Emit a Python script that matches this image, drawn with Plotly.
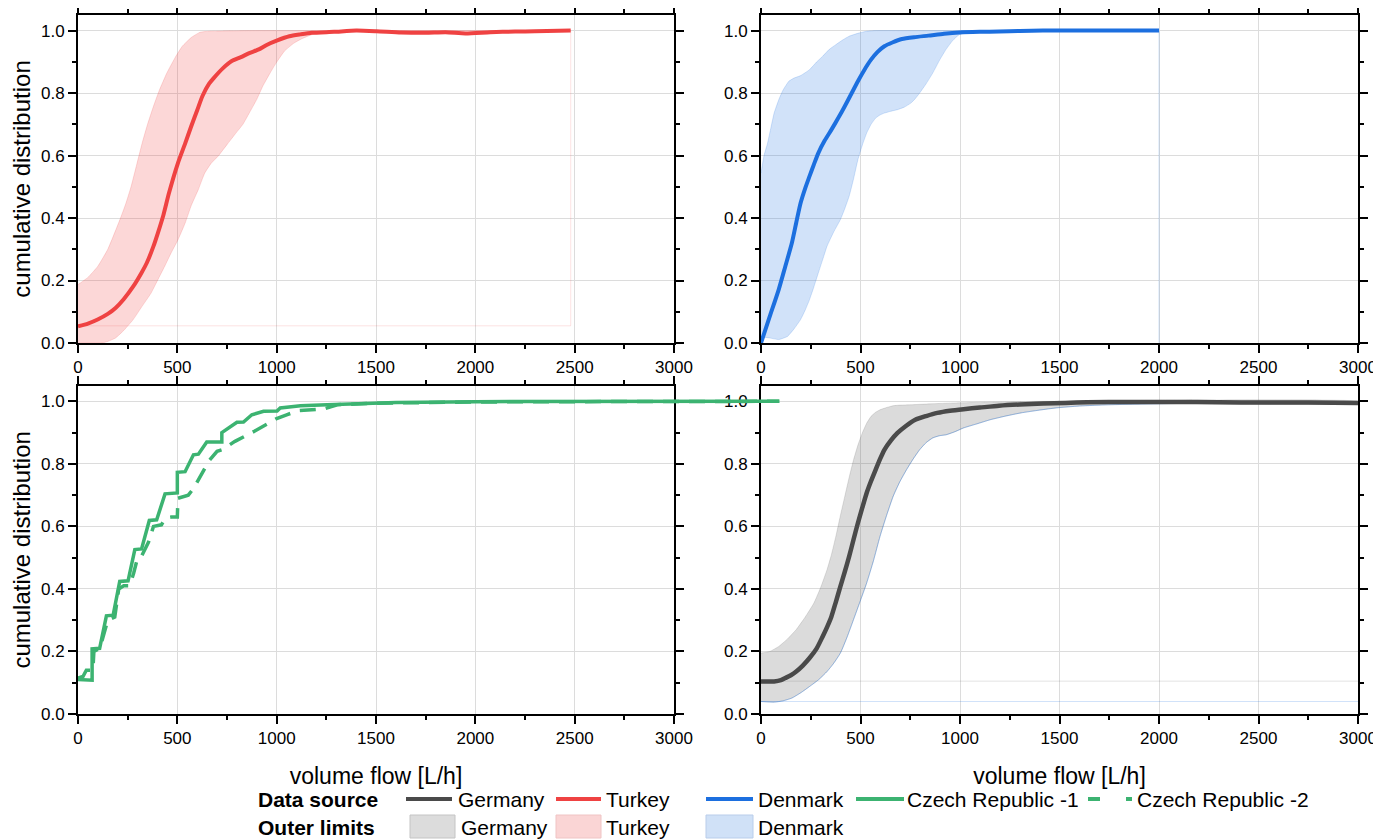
import plotly.graph_objects as go

# ---------------- data ----------------
# Turkey (top-left)
turkey_x = [0, 50, 99, 150, 189, 230, 278, 320, 346, 380, 402, 430, 458, 503, 540, 570, 600, 626, 660, 683,
            730, 772, 820, 862, 910, 952, 1000, 1064, 1120, 1177, 1289, 1401, 1502, 1626, 1750, 1850, 1951,
            2075, 2200, 2300, 2480]
turkey_y = [0.053, 0.062, 0.075, 0.093, 0.112, 0.140, 0.181, 0.225, 0.256, 0.31, 0.352, 0.41, 0.48, 0.576,
            0.64, 0.694, 0.745, 0.79, 0.83, 0.848, 0.88, 0.902, 0.915, 0.928, 0.94, 0.955, 0.968, 0.982,
            0.988, 0.993, 0.996, 1.0, 0.998, 0.994, 0.993, 0.995, 0.991, 0.995, 0.997, 0.998, 1.0]
turkey_up_x = [0, 50, 99, 150, 211, 240, 267, 295, 323, 350, 380, 410, 447, 490, 525, 570, 615, 660, 728,
               900, 1100, 1300, 2480]
turkey_up_y = [0.187, 0.21, 0.245, 0.30, 0.395, 0.445, 0.50, 0.57, 0.64, 0.70, 0.758, 0.81, 0.864, 0.915,
               0.95, 0.978, 0.995, 0.998, 0.999, 1.0, 1.0, 1.0, 1.0]
turkey_lo_x = [0, 60, 121, 150, 189, 230, 278, 320, 368, 400, 436, 470, 503, 540, 570, 605, 638, 670, 705,
               750, 795, 830, 862, 900, 930, 965, 997, 1040, 1087, 1130, 1177, 1266, 1401, 1600, 2480]
turkey_lo_y = [0.0, 0.0, 0.0, 0.005, 0.016, 0.04, 0.075, 0.115, 0.16, 0.20, 0.245, 0.29, 0.33, 0.385, 0.44,
               0.49, 0.544, 0.575, 0.598, 0.635, 0.672, 0.70, 0.736, 0.78, 0.822, 0.862, 0.896, 0.935, 0.96,
               0.975, 0.987, 0.996, 0.998, 0.999, 1.0]
turkey_edge_x = [0, 2480, 2480]
turkey_edge_y = [0.055, 0.055, 1.0]

# Denmark (top-right)
denmark_x = [0, 44, 89, 122, 155, 177, 199, 222, 244, 266, 288, 320, 354, 388, 421, 454, 487, 520, 553, 586,
             620, 660, 708, 770, 841, 920, 996, 1100, 1196, 1300, 1417, 1600, 1800, 2000]
denmark_y = [0.0, 0.085, 0.171, 0.245, 0.32, 0.385, 0.448, 0.495, 0.534, 0.572, 0.608, 0.648, 0.683, 0.72,
             0.758, 0.798, 0.838, 0.875, 0.907, 0.932, 0.95, 0.962, 0.973, 0.979, 0.984, 0.99, 0.994, 0.996,
             0.997, 0.999, 1.0, 1.0, 1.0, 1.0]
denmark_up_x = [0, 15, 33, 50, 66, 90, 111, 140, 166, 199, 244, 280, 310, 343, 376, 410, 443, 490, 531, 576,
                700, 1000, 2000]
denmark_up_y = [0.544, 0.60, 0.64, 0.69, 0.736, 0.78, 0.81, 0.838, 0.848, 0.856, 0.875, 0.9, 0.918, 0.94,
                0.955, 0.97, 0.982, 0.992, 0.998, 1.0, 1.0, 1.0, 1.0]
denmark_lo_x = [0, 44, 89, 133, 166, 199, 222, 244, 266, 288, 310, 332, 365, 399, 421, 443, 465, 487, 510,
                531, 553, 576, 598, 620, 653, 686, 720, 753, 775, 797, 830, 863, 897, 930, 963, 996, 1063,
                1200, 2000]
denmark_lo_y = [0.02, 0.016, 0.011, 0.021, 0.045, 0.075, 0.105, 0.139, 0.18, 0.224, 0.267, 0.31, 0.355,
                0.395, 0.43, 0.47, 0.525, 0.587, 0.635, 0.672, 0.70, 0.72, 0.73, 0.736, 0.742, 0.747, 0.755,
                0.768, 0.782, 0.80, 0.83, 0.864, 0.905, 0.94, 0.968, 0.987, 0.995, 0.999, 1.0]
denmark_edge_x = [2000, 2000]
denmark_edge_y = [0.0, 1.0]

# Czech Republic (bottom-left)
czech1_x = [0, 71, 71, 109, 143, 177, 210, 252, 286, 320, 359, 396, 438, 500, 500, 539, 581, 606, 648, 724,
            724, 800, 833, 875, 934, 1002, 1018, 1120, 1254, 1423, 1600, 2000, 2500, 3000, 3530]
czech1_y = [0.11, 0.108, 0.208, 0.21, 0.314, 0.316, 0.424, 0.426, 0.526, 0.528, 0.619, 0.621, 0.704, 0.707,
            0.773, 0.775, 0.829, 0.831, 0.87, 0.87, 0.9, 0.933, 0.934, 0.957, 0.968, 0.969, 0.979, 0.986,
            0.989, 0.993, 0.996, 0.999, 1.0, 1.0, 1.0]
czech2_x = [0, 25, 42, 75, 80, 110, 150, 185, 205, 230, 260, 280, 300, 320, 355, 380, 420, 440, 470, 500,
            503, 555, 580, 615, 660, 700, 725, 790, 850, 890, 960, 1000, 1050, 1110, 1240, 1305, 1500, 2000,
            2500, 3000, 3530]
czech2_y = [0.115, 0.12, 0.14, 0.14, 0.20, 0.21, 0.30, 0.31, 0.40, 0.41, 0.41, 0.45, 0.50, 0.505, 0.55,
            0.60, 0.605, 0.627, 0.63, 0.63, 0.69, 0.70, 0.72, 0.76, 0.81, 0.84, 0.845, 0.872, 0.89, 0.905,
            0.93, 0.945, 0.957, 0.97, 0.976, 0.989, 0.994, 0.998, 0.999, 1.0, 1.0]

# Germany (bottom-right)
germany_x = [0, 66, 100, 122, 150, 177, 210, 244, 280, 310, 332, 354, 376, 399, 421, 443, 465, 487, 509, 531,
             553, 576, 598, 620, 653, 686, 730, 775, 830, 886, 950, 1018, 1100, 1196, 1300, 1417, 1530, 1638,
             1850, 2081, 2300, 2524, 2750, 3000]
germany_y = [0.104, 0.104, 0.108, 0.115, 0.124, 0.136, 0.155, 0.179, 0.21, 0.248, 0.278, 0.312, 0.358, 0.408,
             0.455, 0.504, 0.558, 0.611, 0.66, 0.707, 0.745, 0.781, 0.815, 0.845, 0.875, 0.899, 0.922, 0.941,
             0.953, 0.963, 0.97, 0.975, 0.98, 0.986, 0.99, 0.993, 0.995, 0.997, 0.998, 0.998, 0.997, 0.996,
             0.996, 0.995]
germany_up_x = [0, 44, 89, 133, 177, 222, 266, 300, 332, 354, 376, 399, 421, 443, 465, 487, 509, 531, 553,
                576, 598, 630, 664, 700, 753, 850, 974, 1200, 1417, 3000]
germany_up_y = [0.195, 0.2, 0.216, 0.24, 0.27, 0.31, 0.355, 0.405, 0.462, 0.51, 0.568, 0.635, 0.696, 0.757,
                0.813, 0.86, 0.899, 0.93, 0.952, 0.965, 0.973, 0.98, 0.986, 0.988, 0.989, 0.992, 0.995, 0.998,
                1.0, 1.0]
germany_lo_x = [0, 66, 110, 155, 200, 244, 290, 332, 365, 399, 432, 465, 498, 531, 565, 598, 631, 664, 697,
                731, 764, 797, 830, 863, 897, 930, 975, 1018, 1085, 1151, 1230, 1306, 1400, 1483, 1600, 1749,
                1900, 2081, 3000]
germany_lo_y = [0.04, 0.038, 0.042, 0.051, 0.068, 0.088, 0.11, 0.136, 0.162, 0.195, 0.245, 0.302, 0.36,
                0.419, 0.49, 0.568, 0.635, 0.696, 0.742, 0.781, 0.815, 0.845, 0.868, 0.883, 0.89, 0.893,
                0.903, 0.915, 0.928, 0.941, 0.953, 0.963, 0.972, 0.979, 0.985, 0.989, 0.991, 0.993, 0.993]
germany_edge_x = [0, 3000]
germany_edge_hi_y = [0.105, 0.105]
germany_edge_lo_y = [0.04, 0.04]

# labels
x_title = "volume flow [L/h]"
y_title = "cumulative distribution"
legend_row_titles = ["Data source", "Outer limits"]
line_names = ["Germany", "Turkey", "Denmark", "Czech Republic -1", "Czech Republic -2"]
band_names = ["Germany", "Turkey", "Denmark"]
x_ticks = [0, 500, 1000, 1500, 2000, 2500, 3000]

# ---------------- styling ----------------
C_DE, C_TR, C_DK, C_CZ = "#4a4a4a", "#ef4242", "#1c6fdf", "#3cb371"
F_DE, F_TR, F_DK = "rgba(77,77,77,0.2)", "rgba(240,64,64,0.21)", "rgba(26,111,224,0.2)"
FONT = "Liberation Sans, Arial, sans-serif"

# The page body has an 8px margin, so the figure sits 8px right/down of the window corner.
W, H = 1381, 840
ML, MR, MT, MB = 70, 31, 7, 134
PW, PH = W - ML - MR, H - MT - MB


def fx(px):  # window pixel -> paper fraction
    return (px - 78) / PW


def fy(py):
    return (714 - py) / PH


XL = [fx(78), fx(674)]
XR = [fx(761), fx(1358)]
YT = [fy(343), fy(15)]
YB = [fy(714), fy(385.7)]

fig = go.Figure()


def band(xu, yu, xl, yl, fill, edge, xa, ya):
    fig.add_trace(go.Scatter(x=list(xu) + list(xl)[::-1], y=list(yu) + list(yl)[::-1], fill="toself",
                             fillcolor=fill, mode="lines",
                             line=dict(color=edge, width=1, shape="spline", smoothing=0.4),
                             showlegend=False, hoverinfo="skip", xaxis=xa, yaxis=ya))


def line(x, y, color, width, xa, ya, name, dash="solid", shape="linear"):
    ln = dict(color=color, width=width, dash=dash, shape=shape)
    if shape == "spline":
        ln["smoothing"] = 0.6
    fig.add_trace(go.Scatter(x=x, y=y, mode="lines", line=ln,
                             name=name, showlegend=False, xaxis=xa, yaxis=ya))


# Turkey
band(turkey_up_x, turkey_up_y, turkey_lo_x, turkey_lo_y, F_TR, "rgba(240,64,64,0.18)", "x", "y")
line(turkey_edge_x, turkey_edge_y, "rgba(240,64,64,0.15)", 1, "x", "y", "Turkey limits")
line(turkey_x, turkey_y, C_TR, 4, "x", "y", "Turkey", shape="spline")
# Denmark
band(denmark_up_x, denmark_up_y, denmark_lo_x, denmark_lo_y, F_DK, "rgba(26,111,224,0.18)", "x2", "y2")
line(denmark_edge_x, denmark_edge_y, "rgba(26,111,224,0.2)", 1, "x2", "y2", "Denmark limits")
line(denmark_x, denmark_y, C_DK, 4, "x2", "y2", "Denmark", shape="spline")
# Germany
fig.add_trace(go.Scatter(x=germany_up_x + germany_lo_x[::-1], y=germany_up_y + germany_lo_y[::-1],
                         fill="toself", fillcolor=F_DE, mode="lines",
                         line=dict(color="rgba(77,77,77,0.15)", width=1, shape="spline", smoothing=0.4),
                         showlegend=False, hoverinfo="skip", xaxis="x4", yaxis="y4"))
line(germany_lo_x, germany_lo_y, "rgba(26,111,224,0.35)", 1, "x4", "y4", "Germany lower", shape="spline")
line(germany_edge_x, germany_edge_hi_y, "rgba(77,77,77,0.15)", 1, "x4", "y4", "edge")
line(germany_edge_x, germany_edge_lo_y, "rgba(26,111,224,0.2)", 1, "x4", "y4", "edge")
line(germany_x, germany_y, C_DE, 4.5, "x4", "y4", "Germany", shape="spline")
# placeholder so the bottom-left panel (axes, grid) is drawn
fig.add_trace(go.Scatter(x=[None], y=[None], mode="lines", showlegend=False, hoverinfo="skip",
                         xaxis="x3", yaxis="y3"))
# Czech (on overlay axes spanning slightly wider than the bottom-left panel, as in the reference)
line(czech2_x, czech2_y, C_CZ, 3.5, "x5", "y6", "Czech Republic -2", dash="16px,10px")
line(czech1_x, czech1_y, C_CZ, 3.5, "x5", "y6", "Czech Republic -1")

tickfont = dict(size=17, color="black", family=FONT)


def xax(domain, anchor, title=None):
    d = dict(domain=domain, anchor=anchor, range=[0, 3000], tickvals=x_ticks, showgrid=True,
             gridcolor="#dcdcdc", gridwidth=1, showline=True, linecolor="black", linewidth=2,
             mirror="ticks", ticks="outside", ticklen=8, tickwidth=2, tickcolor="black",
             minor=dict(dtick=250, tick0=0, ticks="outside", ticklen=4, tickwidth=1.5,
                        tickcolor="black", showgrid=False),
             tickfont=tickfont, zeroline=False, automargin=False)
    if title:
        d["title"] = dict(text=title, font=dict(size=23, color="black", family=FONT), standoff=20)
    return d


def yax(domain, anchor, title=None):
    d = dict(domain=domain, anchor=anchor, range=[0, 1.05], dtick=0.2, tick0=0, tickformat=".1f",
             showgrid=True, gridcolor="#dcdcdc", gridwidth=1, showline=True, linecolor="black",
             linewidth=2, mirror="ticks", ticks="outside", ticklen=8, tickwidth=2, tickcolor="black",
             minor=dict(dtick=0.1, tick0=0, ticks="outside", ticklen=4, tickwidth=1.5,
                        tickcolor="black", showgrid=False),
             tickfont=tickfont, zeroline=False, automargin=False)
    if title:
        d["title"] = dict(text=title, font=dict(size=24, color="black", family=FONT), standoff=6)
    return d


overlay_max = 3000 * (780 - 78) / (674 - 78)

fig.update_layout(
    width=W, height=H,
    margin=dict(l=ML, r=MR, t=MT, b=MB, autoexpand=False),
    paper_bgcolor="white", plot_bgcolor="rgba(0,0,0,0)",
    font=dict(family=FONT, color="black"),
    showlegend=False,
    xaxis=xax(XL, "y"), yaxis=yax(YT, "x", y_title),
    xaxis2=xax(XR, "y2"), yaxis2=yax(YT, "x2"),
    xaxis3=xax(XL, "y3", x_title), yaxis3=yax(YB, "x3", y_title),
    xaxis4=xax(XR, "y4", x_title), yaxis4=yax(YB, "x4"),
    xaxis5=dict(domain=[fx(78), fx(780)], anchor="y6", range=[0, overlay_max], visible=False,
                showgrid=False, zeroline=False, automargin=False),
    yaxis6=dict(domain=YB, anchor="x5", range=[0, 1.05], visible=False, showgrid=False, zeroline=False,
                automargin=False),
)

# ---------------- legend (two rows) ----------------
shapes = []
annots = []
row1, row2 = 799, 827
annots.append(dict(text="<b>%s</b>" % legend_row_titles[0], x=fx(256), y=fy(row1)))
annots.append(dict(text="<b>%s</b>" % legend_row_titles[1], x=fx(256), y=fy(row2)))
line_cols = [C_DE, C_TR, C_DK, C_CZ, C_CZ]
line_x0 = [406, 556, 706, 856, 1088]
line_x1 = [452, 601, 753, 904, 1132]
text_x = [456, 604, 756, 905, 1135]
for i, nm in enumerate(line_names):
    dash = "12px,26px,6px,40px" if i == 4 else "solid"
    shapes.append(dict(type="line", xref="paper", yref="paper", x0=fx(line_x0[i]), x1=fx(line_x1[i]),
                       y0=fy(row1), y1=fy(row1), line=dict(color=line_cols[i], width=4, dash=dash)))
    annots.append(dict(text=nm, x=fx(text_x[i]), y=fy(row1)))
band_fills = ["#dcdcdc", "#fad5d5", "#d0e1f7"]
band_edges = ["#c4c4c4", "#efc4c4", "#b9cdea"]
box_x0 = [410, 556, 706]
box_x1 = [455, 601, 753]
btext_x = [459, 604, 756]
for i, nm in enumerate(band_names):
    shapes.append(dict(type="rect", xref="paper", yref="paper", x0=fx(box_x0[i]), x1=fx(box_x1[i]),
                       y0=fy(838), y1=fy(815), fillcolor=band_fills[i],
                       line=dict(color=band_edges[i], width=1)))
    annots.append(dict(text=nm, x=fx(btext_x[i]), y=fy(row2)))

for a in annots:
    a.update(xref="paper", yref="paper", xanchor="left", yanchor="middle", showarrow=False,
             font=dict(size=21, color="black", family=FONT))
fig.update_layout(shapes=shapes, annotations=annots)

fig.write_html("out.html")
